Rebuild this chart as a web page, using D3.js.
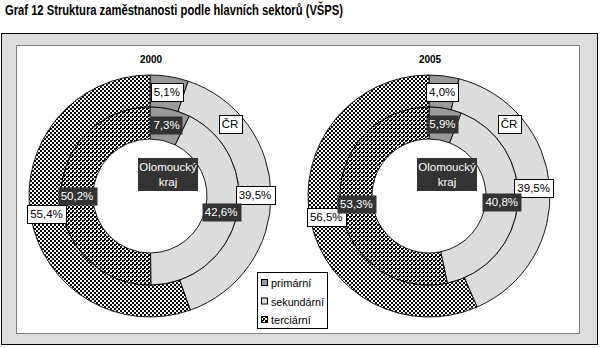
<!DOCTYPE html>
<html><head><meta charset="utf-8">
<script src="https://cdn.jsdelivr.net/npm/d3@7"></script>
<style>body{margin:0;background:#fff}svg{display:block}text{font-family:"Liberation Sans",Arial,sans-serif}</style>
</head><body><svg id="c" width="608" height="348"></svg>
<script>
const title = "Graf 12 Struktura zaměstnanosti podle hlavních sektorů (VŠPS)";
const sectors = ["primární", "sekundární", "terciární"];
const years = ["2000", "2005"];
const crValues = [[5.1, 39.5, 55.4], [4.0, 39.5, 56.5]];
const olomoucValues = [[7.3, 42.6, 50.2], [5.9, 40.8, 53.3]];
const ringNames = ["ČR", "Olomoucký kraj"];

const svg = d3.select("#c");
const defs = svg.append("defs");
function checker(id, size, extra) {
  const p = defs.append("pattern").attr("id", id).attr("patternUnits", "userSpaceOnUse")
    .attr("width", size * 2).attr("height", size * 2);
  p.append("rect").attr("width", size * 2).attr("height", size * 2).attr("fill", "#fff");
  p.append("rect").attr("width", size).attr("height", size).attr("fill", "#000");
  p.append("rect").attr("x", size).attr("y", size).attr("width", size).attr("height", size).attr("fill", "#000");
  if (extra) {
    p.append("rect").attr("x", size).attr("y", 0).attr("width", 1).attr("height", 1).attr("fill", "#000");
  }
}
checker("chkOuter", 2, false);
checker("chkInner", 2, true);

const fillOuter = ["#999999", "#dcdcdc", "url(#chkOuter)"];
const fillInner = ["#999999", "#dcdcdc", "url(#chkInner)"];

// title
svg.append("text").attr("x", 5).attr("y", 15).attr("font-size", 14).attr("font-weight", "bold")
  .attr("textLength", 338).attr("lengthAdjust", "spacingAndGlyphs").text(title);

// frame
svg.append("rect").attr("x", 1.5).attr("y", 33.5).attr("width", 596).attr("height", 311)
  .attr("fill", "#dddddd").attr("stroke", "#000").attr("stroke-width", 1);
svg.append("rect").attr("x", 16.5).attr("y", 45.5).attr("width", 563).attr("height", 288)
  .attr("fill", "#fff").attr("stroke", "#808080").attr("stroke-width", 1);

const centersX = d3.scalePoint().domain(years).range([150, 429]);
const cy = 196;
const rOuter = 121, rMid = 89, rInner = 57;
const pie = d3.pie().sort(null).value(d => d);
const arcOuter = d3.arc().innerRadius(rMid).outerRadius(rOuter);
const arcInner = d3.arc().innerRadius(rInner).outerRadius(rMid);
const fmt = v => d3.format(".1f")(v).replace(".", ",") + "%";

function labelBox(g, x, y, text, dark) {
  const t = g.append("text").attr("x", x).attr("y", y + 4).attr("text-anchor", "middle")
    .attr("font-size", 11.5).attr("fill", dark ? "#fff" : "#000").text(text);
  const w = t.node().getComputedTextLength();
  g.insert("rect", () => t.node()).attr("x", Math.round(x - w / 2 - 3) + 0.5).attr("y", Math.round(y - 9) + 0.5)
    .attr("width", Math.round(w + 6)).attr("height", 18)
    .attr("fill", dark ? "#333333" : "#fff").attr("stroke", dark ? "none" : "#000");
}

years.forEach((yr, i) => {
  const cx = centersX(yr);
  const g = svg.append("g").attr("transform", `translate(${cx},${cy})`);
  svg.append("text").attr("x", cx + 1).attr("y", 63).attr("text-anchor", "middle")
    .attr("font-size", 10).attr("font-weight", "bold").text(yr);
  const po = pie(crValues[i]);
  const pi = pie(olomoucValues[i]);
  g.selectAll("path.o").data(po).join("path").attr("class", "o").attr("d", arcOuter)
    .attr("fill", (d, k) => fillOuter[k]).attr("stroke", "#000").attr("stroke-width", 0.9);
  g.selectAll("path.i").data(pi).join("path").attr("class", "i").attr("d", arcInner)
    .attr("fill", (d, k) => fillInner[k]).attr("stroke", "#000").attr("stroke-width", 0.9);
  const lg = g.append("g");
  po.forEach(d => { const c = arcOuter.centroid(d); labelBox(lg, c[0], c[1], fmt(d.data), false); });
  pi.forEach(d => { const c = arcInner.centroid(d); labelBox(lg, c[0], c[1], fmt(d.data), true); });
  // ring names
  labelBox(lg, 80, -72, ringNames[0], false);
  const ob = lg.append("g");
  ob.append("rect").attr("x", -12).attr("y", -38).attr("width", 60).attr("height", 33).attr("fill", "#333333");
  ob.append("text").attr("x", 18).attr("y", -25).attr("text-anchor", "middle").attr("font-size", 11.5)
    .attr("fill", "#fff").text("Olomoucký");
  ob.append("text").attr("x", 18).attr("y", -10).attr("text-anchor", "middle").attr("font-size", 11.5)
    .attr("fill", "#fff").text("kraj");
});

// legend
const leg = svg.append("g").attr("transform", "translate(257,272)");
leg.append("rect").attr("x", 0.5).attr("y", 0.5).attr("width", 70).attr("height", 56)
  .attr("fill", "#fff").attr("stroke", "#000");
const legFill = ["#999999", "#dcdcdc", "url(#chkInner)"];
sectors.forEach((s, k) => {
  const y = 7 + k * 18.5;
  leg.append("rect").attr("x", 4.5).attr("y", y + 0.5).attr("width", 6).attr("height", 6)
    .attr("fill", legFill[k]).attr("stroke", "#000");
  leg.append("text").attr("x", 14).attr("y", y + 8).attr("font-size", 11)
    .attr("textLength", s.length > 9 ? 53 : null).attr("lengthAdjust", "spacingAndGlyphs").text(s);
});
</script></body></html>
